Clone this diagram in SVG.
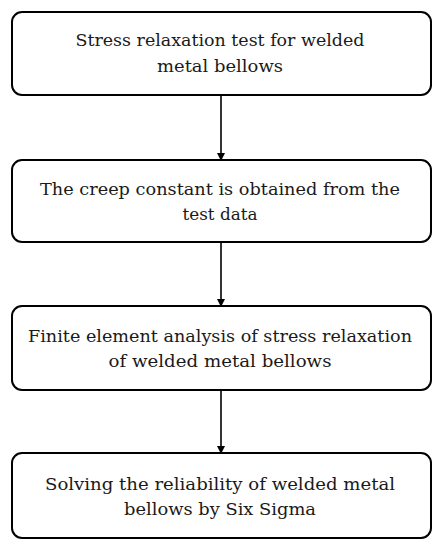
<svg xmlns="http://www.w3.org/2000/svg" width="440" height="550" viewBox="0 0 440 550">
<defs>
<marker id="ah" markerWidth="8" markerHeight="8" refX="7" refY="4" orient="auto" markerUnits="userSpaceOnUse">
<path d="M0,0 L8,4 L0,8 Z" fill="#000"/>
</marker>
<style>
.box{fill:#fff;stroke:#000;stroke-width:2}
.t{font-family:"DejaVu Serif","Liberation Serif",serif;font-size:17px;fill:#1a1a1a;text-anchor:middle}
.c{stroke:#000;stroke-width:1.6;fill:none}
</style>
</defs>
<rect width="440" height="550" fill="#fff"/>
<g id="connectors">
<line class="c" x1="221" y1="95" x2="221" y2="160" marker-end="url(#ah)"/>
<line class="c" x1="221" y1="242" x2="221" y2="306" marker-end="url(#ah)"/>
<line class="c" x1="221" y1="390" x2="221" y2="453" marker-end="url(#ah)"/>
</g>
<g id="node1">
<rect class="box" x="12" y="12" width="419" height="83" rx="10"/>
<text class="t" x="220" y="46" textLength="289" lengthAdjust="spacingAndGlyphs">Stress relaxation test for welded</text>
<text class="t" x="220" y="72" textLength="126" lengthAdjust="spacingAndGlyphs">metal bellows</text>
</g>
<g id="node2">
<rect class="box" x="12" y="160" width="419" height="82" rx="10"/>
<text class="t" x="220" y="195" textLength="360" lengthAdjust="spacingAndGlyphs">The creep constant is obtained from the</text>
<text class="t" x="220" y="220" textLength="75" lengthAdjust="spacingAndGlyphs">test data</text>
</g>
<g id="node3">
<rect class="box" x="12" y="306" width="419" height="84" rx="10"/>
<text class="t" x="220" y="342" textLength="384" lengthAdjust="spacingAndGlyphs">Finite element analysis of stress relaxation</text>
<text class="t" x="220" y="367" textLength="223" lengthAdjust="spacingAndGlyphs">of welded metal bellows</text>
</g>
<g id="node4">
<rect class="box" x="12" y="453" width="419" height="85" rx="10"/>
<text class="t" x="220" y="490" textLength="350" lengthAdjust="spacingAndGlyphs">Solving the reliability of welded metal</text>
<text class="t" x="220" y="515" textLength="192" lengthAdjust="spacingAndGlyphs">bellows by Six Sigma</text>
</g>
</svg>
